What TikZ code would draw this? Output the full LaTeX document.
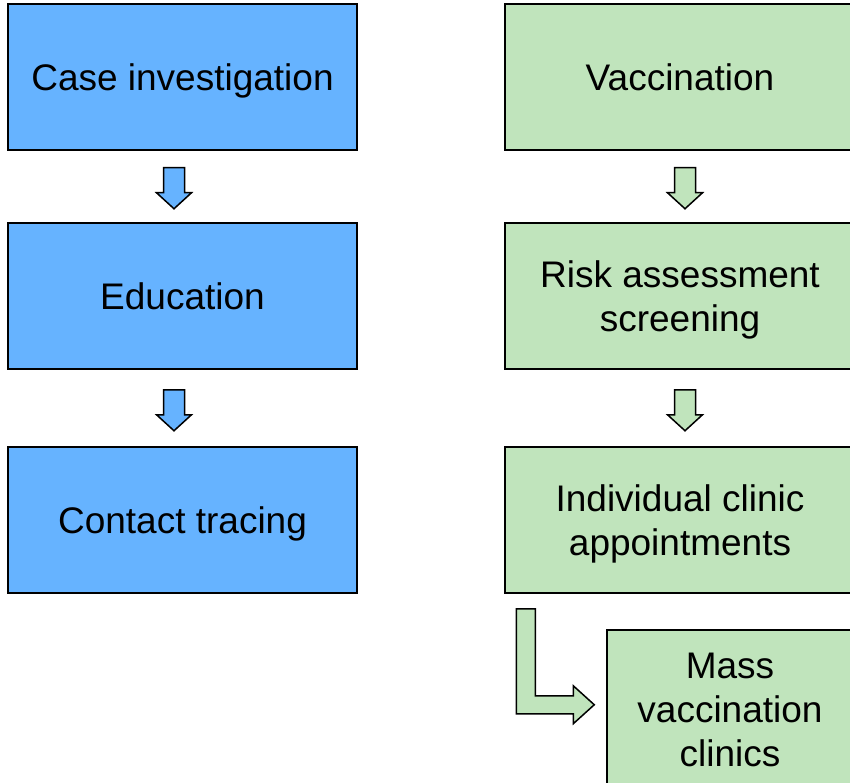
\documentclass[tikz,border=0pt]{standalone}
\usepackage{fontspec}
\setmainfont{Liberation Sans}
\usetikzlibrary{calc}
\definecolor{caseblue}{RGB}{102,179,255}
\definecolor{vacgreen}{RGB}{192,228,188}
\begin{document}
\begin{tikzpicture}[x=1pt,y=-1pt]
    \tikzset{every node/.style={inner sep=0pt, font=\fontsize{37}{44}\selectfont, align=center},
      bluebox/.style={draw=black, line width=1.5pt, fill=caseblue, minimum width=349pt, minimum height=146pt},
      greenbox/.style={draw=black, line width=1.5pt, fill=vacgreen, minimum width=350pt, minimum height=146pt},
      oneline/.style={text depth=0pt},
      blockarrow/.style={draw=black, line width=1.5pt, line join=miter}}
    \useasboundingbox (0,0) rectangle (850,783);
    \clip (0,0) rectangle (850,783);
    % left column
    \node [bluebox, oneline] (case) at (182.5,77) {Case investigation};
    \node [bluebox, oneline] (edu) at (182.5,296) {Education};
    \node [bluebox, oneline] (contact) at (182.5,520) {Contact tracing};
    % right column
    \node [greenbox, oneline] (vacc) at (680,77) {Vaccination};
    \node [greenbox] (risk) at (680,296) {Risk assessment\\\smash{screening}};
    \node [greenbox] (indiv) at (680,520) {Individual clinic\\\smash{appointments}};
    \node [greenbox, minimum width=246pt, minimum height=160pt] (mass) at (730,710) {Mass\\vaccination\\clinics};
    % down arrows
    \coordinate (a1) at ($(case.south)+(-8.5,17)$);
    \coordinate (a2) at ($(edu.south)+(-8.5,20)$);
    \coordinate (b1) at ($(vacc.south)+(5,17)$);
    \coordinate (b2) at ($(risk.south)+(5,20)$);
    \foreach \c/\col in {a1/caseblue, a2/caseblue, b1/vacgreen, b2/vacgreen}
      \draw [blockarrow, fill=\col] (\c) ++(-10.5,0) -- ++(21,0) -- ++(0,25) -- ++(7,0)
        -- ++(-17.5,16) -- ++(-17.5,-16) -- ++(7,0) -- cycle;
    % bent arrow to mass clinics
    \coordinate (l0) at ($(indiv.south west)+(12,15)$);
    \draw [blockarrow, fill=vacgreen] (l0) -- ++(19,0) -- ++(0,87) -- ++(38,0) -- ++(0,-10)
      -- ++(21,19) -- ++(-21,19) -- ++(0,-10) -- ++(-57,0) -- cycle;
\end{tikzpicture}
\end{document}
